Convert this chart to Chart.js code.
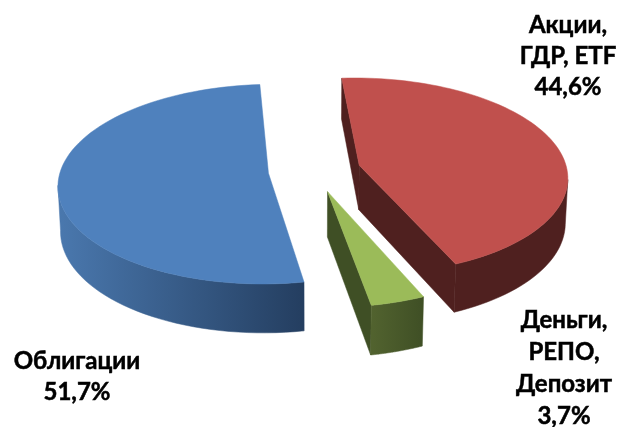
<!DOCTYPE html>
<html lang="ru">
<head>
<meta charset="utf-8">
<title>Структура портфеля</title>
<script src="https://cdn.jsdelivr.net/npm/chart.js@4"></script>
<style>
html, body { margin: 0; padding: 0; background: #fff; }
canvas { display: block; }
</style>
</head>
<body>
<canvas id="portfolioChart" width="618" height="427"></canvas>
<script>
const categories = [['Акции,', 'ГДР, ETF'], ['Деньги,', 'РЕПО,', 'Депозит'], ['Облигации']];
const shares = [44.6, 3.7, 51.7];
const topColors = ['#c0504d', '#9bbb59', '#4f81bd'];
const wallLeft = ['#4f201f', '#52632f', '#4a78ae'];
const wallRight = ['#4f201f', '#3f4f25', '#243e60'];
const cutColors = ['#4f201f', '#3f4f25', '#2c4a70'];
const explode = [0.225, 0.22, 0.22];

// tilted view of the flat pie: screen centre, radii, depth, perspective
const view = { cx: 314, cy: 170.5, rx: 208, ry: 98, depth: 45, k: 0.11, m: 0.01 };
const labelFont = 'bold 24px Lato, "Noto Sans", sans-serif';
const labelSpots = [[568, 25, 31], [564, 320, 32], [77, 361, 31]];

function project(u, v, z) {
    const s = 1 / (1 - view.k * v + view.m * z);
    return [view.cx + view.rx * u * s, view.cy + (view.ry * v + view.depth * z) * s];
}

function trace(ctx, pts) {
    ctx.beginPath();
    pts.forEach((p, i) => i ? ctx.lineTo(p[0], p[1]) : ctx.moveTo(p[0], p[1]));
    ctx.closePath();
}

function paint(ctx, pts, fill) {
    trace(ctx, pts);
    ctx.fillStyle = fill;
    ctx.strokeStyle = fill;
    ctx.lineWidth = 0.5;
    ctx.fill();
    ctx.stroke();
}

function drawSlice(ctx, arc, i) {
    const R = arc.outerRadius;
    const mid = (arc.startAngle + arc.endAngle) / 2;
    const off = arc.options.offset / R;
    const ou = Math.cos(mid) * off;
    const ov = Math.sin(mid) * off;

    const rim = (z) => {
        const pts = [];
        for (let n = 0; n <= 80; n++) {
            const a = arc.startAngle + (arc.endAngle - arc.startAngle) * n / 80;
            pts.push(project(ou + Math.cos(a), ov + Math.sin(a), z));
        }
        return pts;
    };
    const tip = (z) => project(ou, ov, z);
    const top = rim(0);
    const low = rim(1);
    const last = top.length - 1;

    // cut faces, only those turned towards the viewer
    if (top[0][0] < tip(0)[0]) {
        paint(ctx, [tip(0), top[0], low[0], tip(1)], cutColors[i]);
    }
    if (tip(0)[0] < top[last][0]) {
        paint(ctx, [top[last], tip(0), tip(1), low[last]], cutColors[i]);
    }

    // outer wall, front part of the rim only (where it runs right to left)
    const xs = low.concat(top).map(p => p[0]);
    const grad = ctx.createLinearGradient(Math.min(...xs), 0, Math.max(...xs), 0);
    grad.addColorStop(0, wallLeft[i]);
    grad.addColorStop(1, wallRight[i]);
    const upper = [];
    const lower = [];
    for (let n = 0; n <= last; n++) {
        const facing = (n < last && top[n + 1][0] < top[n][0]) || (n > 0 && top[n][0] < top[n - 1][0]);
        if (facing) {
            upper.push(top[n]);
            lower.unshift(low[n]);
        }
    }
    paint(ctx, upper.concat(lower), grad);

    // top face
    paint(ctx, [tip(0)].concat(top), topColors[i]);
}

const tiltedPie = {
    id: 'tiltedPie',
    beforeDatasetDraw(chart, args) {
        const ctx = chart.ctx;
        const arcs = args.meta.data;
        ctx.save();
        [2, 0, 1].forEach(i => drawSlice(ctx, arcs[i], i));
        ctx.restore();
        return false;
    },
    afterDatasetsDraw(chart) {
        const ctx = chart.ctx;
        ctx.save();
        ctx.font = labelFont;
        ctx.fillStyle = '#000';
        ctx.strokeStyle = '#000';
        ctx.lineWidth = 0.5;
        ctx.textAlign = 'center';
        ctx.textBaseline = 'middle';
        categories.forEach((lines, i) => {
            const text = lines.concat(shares[i].toFixed(1).replace('.', ',') + '%');
            const [x, y, step] = labelSpots[i];
            text.forEach((line, n) => {
                ctx.fillText(line, x, y + n * step);
                ctx.strokeText(line, x, y + n * step);
            });
        });
        ctx.restore();
    }
};

new Chart(document.getElementById('portfolioChart').getContext('2d'), {
    type: 'pie',
    data: {
        labels: categories,
        datasets: [{
            data: shares,
            backgroundColor: topColors,
            borderWidth: 0,
            offset: explode.map(o => o * 150)
        }]
    },
    options: {
        responsive: false,
        animation: false,
        rotation: -4,
        radius: 150,
        plugins: { legend: { display: false }, tooltip: { enabled: false } }
    },
    plugins: [tiltedPie]
});
</script>
</body>
</html>
